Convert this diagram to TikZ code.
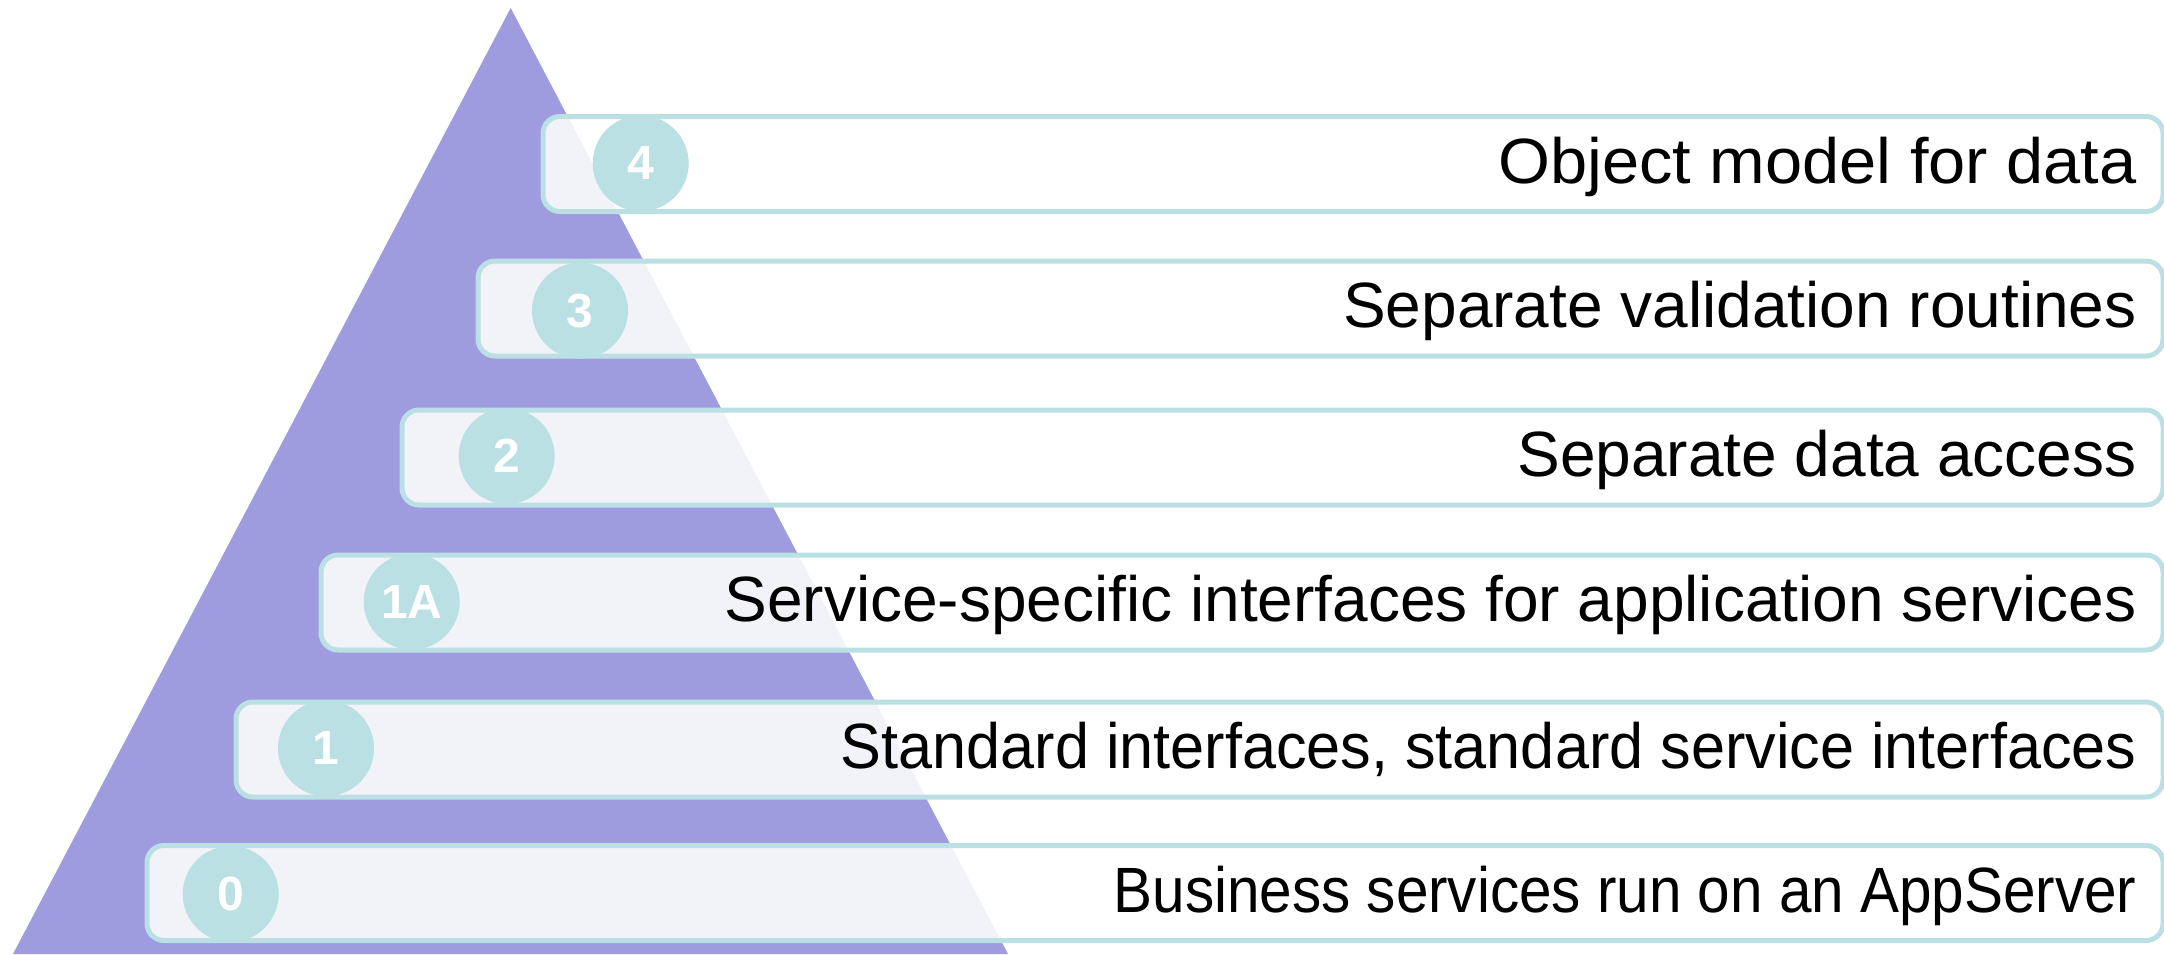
\documentclass[tikz,border=0pt]{standalone}
\usepackage{fontspec}
\setmainfont{Liberation Sans}
\definecolor{tric}{HTML}{9E9CDE}
\definecolor{ringc}{HTML}{BBE0E3}
\definecolor{innerc}{HTML}{F2F3F8}
\begin{document}
\begin{tikzpicture}[x=0.5pt,y=-0.5pt,
  box/.style={draw=ringc, line width=2.5pt, rounded corners=8.5pt, fill=white,
    anchor=west, minimum height=47.5pt, inner sep=0pt,
    path picture={\fill[innerc] (A) -- (BL) -- (BR) -- cycle;}},
  num/.style={circle, fill=ringc, minimum size=48pt, inner sep=0pt, text=white,
    font=\fontsize{24}{28}\selectfont\bfseries},
  lab/.style={anchor=base east, inner sep=0pt, text=black,
    font=\fontsize{32}{38}\selectfont}]
\useasboundingbox (0,0) rectangle (2164,954);
\coordinate (A) at (510.7,8);
\coordinate (BL) at (13,954);
\coordinate (BR) at (1008,954);
\fill[tric] (A) -- (BL) -- (BR) -- cycle;

\node[box, minimum width=810pt] (b4) at (540.5,164) {};
\node[num] (c4) at (640.7,163.3) {4};
\node[lab] (t4) at (2137,183) {\scalebox{1.043}[1]{Object model for data}};

\node[box, minimum width=842.5pt] (b3) at (475.5,308.5) {};
\node[num] (c3) at (580,310.7) {3};
\node[lab] (t3) at (2137,327.5) {Separate validation routines};

\node[box, minimum width=880.5pt] (b2) at (399.5,457.5) {};
\node[num] (c2) at (506.7,456) {2};
\node[lab] (t2) at (2137,476.5) {Separate data access};

\node[box, minimum width=921pt] (b1A) at (318.5,602.5) {};
\node[num] (c1A) at (411.7,601.7) {1A};
\node[lab] (t1A) at (2137,621.5) {Service-specific interfaces for application services};

\node[box, minimum width=963.5pt] (b1) at (233.5,749.5) {};
\node[num] (c1) at (326,748.3) {1};
\node[lab] (t1) at (2137,768.5) {\scalebox{0.956}[1]{Standard interfaces, standard service interfaces}};

\node[box, minimum width=1008pt] (b0) at (144.5,893) {};
\node[num] (c0) at (230.7,894) {0};
\node[lab] (t0) at (2137,912) {\scalebox{0.913}[1]{Business services run on an AppServer}};
\end{tikzpicture}
\end{document}
